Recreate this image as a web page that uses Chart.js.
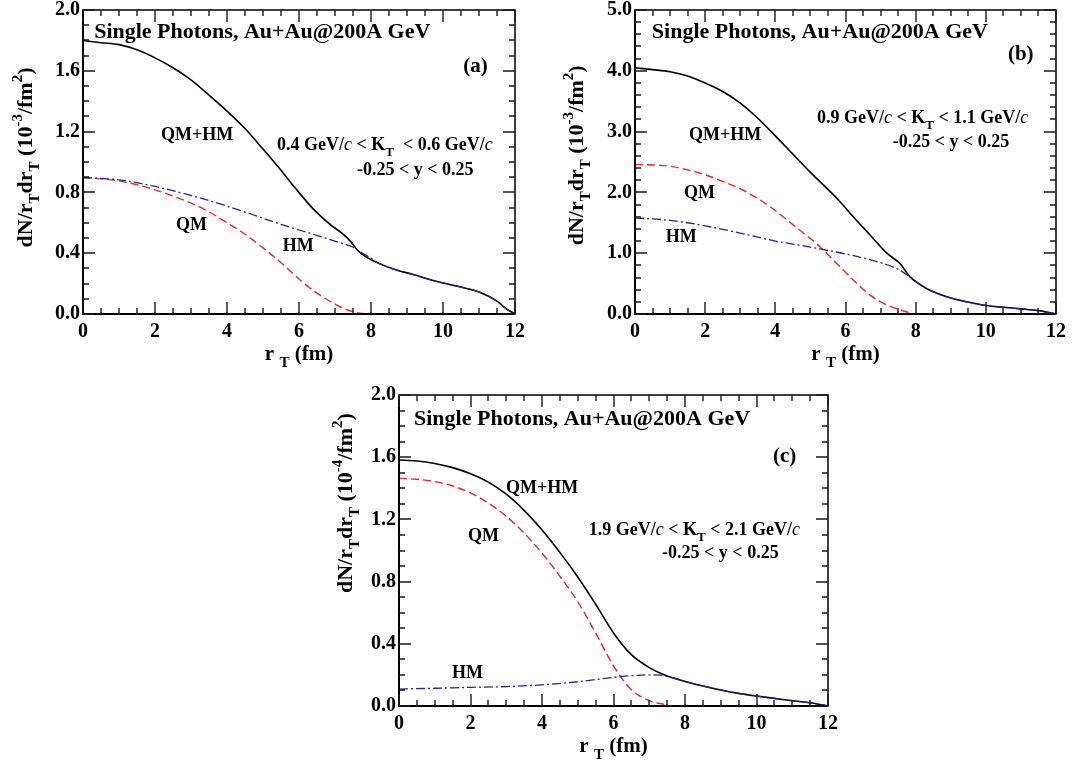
<!doctype html>
<html lang="en">
<head>
	<meta charset="utf-8">
	<title>Single Photons, Au+Au@200A GeV</title>
	<style>
		body {
			margin: 0;
			background: #fff;
		}

		.panel {
			position: absolute;
		}
	</style>
</head>

<body>
	<div class="panel" style="left:0px; top:0px"><canvas id="chartA" width="545" height="375"></canvas></div>
	<div class="panel" style="left:552px; top:0px"><canvas id="chartB" width="535" height="375"></canvas></div>
	<div class="panel" style="left:316px; top:385px"><canvas id="chartC" width="545" height="382"></canvas></div>

	<script src="https://cdn.jsdelivr.net/npm/chart.js"></script>
	<script>
		/*===== Data, panel (a): 0.4 < K_T < 0.6 GeV/c =====*/
		const rTotA = [0, 0.5, 1, 1.5, 2, 2.5, 3, 3.5, 4, 4.5, 5, 5.5, 5.89, 6.4, 6.86, 7.2, 7.44, 7.62, 7.85, 8.22, 8.71, 9.17, 9.55, 10, 10.5, 11, 11.5, 11.75, 12];
		const totA = [1.80, 1.785, 1.772, 1.738, 1.685, 1.62, 1.54, 1.44, 1.335, 1.22, 1.085, 0.945, 0.83, 0.69, 0.59, 0.53, 0.476, 0.421, 0.377, 0.333, 0.289, 0.26, 0.232, 0.204, 0.177, 0.145, 0.085, 0.035, 0];
		const rQmA = [0, 0.5, 1, 1.5, 2, 2.5, 3, 3.5, 4, 4.5, 5, 5.47, 6.03, 6.44, 7.05, 7.4, 7.69, 8];
		const qmA = [0.898, 0.889, 0.876, 0.85, 0.817, 0.776, 0.73, 0.672, 0.600, 0.525, 0.435, 0.344, 0.224, 0.147, 0.059, 0.022, 0.005, 0];
		const rHmA = [0, 1, 2, 3, 4, 5, 5.47, 6.03, 6.58, 7.14, 7.51, 7.69, 7.93, 8.22, 8.71, 9.17, 9.55, 10, 10.5, 11, 11.5, 11.75, 12];
		const hmA = [0.898, 0.883, 0.839, 0.78, 0.71, 0.63, 0.592, 0.551, 0.511, 0.469, 0.439, 0.41, 0.377, 0.333, 0.289, 0.26, 0.232, 0.204, 0.177, 0.145, 0.085, 0.035, 0];

		/*===== Data, panel (b): 0.9 < K_T < 1.1 GeV/c =====*/
		const rTotB = [0, 0.5, 1, 1.5, 2, 2.5, 3, 3.5, 4, 4.5, 5, 5.5, 5.8, 6.22, 6.7, 7.18, 7.55, 7.84, 8.31, 8.88, 9.45, 10, 10.5, 11, 11.5, 12];
		const totB = [4.05, 4.02, 3.985, 3.915, 3.80, 3.66, 3.47, 3.22, 2.93, 2.63, 2.33, 2.05, 1.875, 1.60, 1.30, 1.0, 0.83, 0.61, 0.42, 0.285, 0.20, 0.14, 0.11, 0.085, 0.055, 0];
		const rQmB = [0, 0.5, 1, 1.5, 2, 2.5, 3, 3.5, 4, 4.5, 5, 5.27, 5.75, 6.22, 6.7, 7.18, 7.51, 7.8, 8, 9, 10, 11, 12];
		const qmB = [2.46, 2.45, 2.43, 2.37, 2.29, 2.18, 2.06, 1.90, 1.70, 1.47, 1.24, 1.107, 0.83, 0.56, 0.31, 0.148, 0.077, 0.025, 0.005, 0, 0, 0, 0];
		const rHmB = [0, 1, 2, 3, 4, 5, 5.27, 6.22, 7.18, 7.55, 7.84, 8.31, 8.88, 9.45, 10, 10.5, 11, 11.5, 12];
		const hmB = [1.58, 1.54, 1.45, 1.33, 1.20, 1.10, 1.07, 0.96, 0.81, 0.72, 0.61, 0.42, 0.285, 0.20, 0.14, 0.11, 0.085, 0.055, 0];

		/*===== Data, panel (c): 1.9 < K_T < 2.1 GeV/c =====*/
		const rTotC = [0, 0.5, 1, 1.5, 2, 2.5, 3, 3.5, 4, 4.5, 5, 5.5, 6, 6.5, 7, 7.5, 8, 8.5, 9, 9.5, 10, 10.5, 11, 11.5, 12];
		const totC = [1.582, 1.576, 1.56, 1.533, 1.494, 1.44, 1.362, 1.258, 1.132, 0.988, 0.83, 0.655, 0.47, 0.33, 0.247, 0.193, 0.158, 0.129, 0.103, 0.081, 0.064, 0.049, 0.034, 0.021, 0];
		const rQmC = [0, 0.5, 1, 1.5, 2, 2.5, 3, 3.5, 4, 4.5, 5, 5.5, 6, 6.5, 7, 7.5, 7.6];
		const qmC = [1.464, 1.458, 1.443, 1.415, 1.37, 1.305, 1.22, 1.112, 0.984, 0.834, 0.671, 0.47, 0.258, 0.105, 0.034, 0.006, 0];
		const rHmC = [0, 1, 2, 3, 4, 5, 6, 6.5, 7, 7.3, 7.6, 8, 8.5, 9, 9.5, 10, 10.5, 11, 11.5, 12];
		const hmC = [0.109, 0.114, 0.12, 0.125, 0.136, 0.156, 0.184, 0.195, 0.2, 0.199, 0.186, 0.158, 0.129, 0.103, 0.081, 0.064, 0.049, 0.034, 0.021, 0];

		/*===== Axis tick steps =====*/
		const xMajor = 2, xMinor = 0.5;

		/*===== Styles =====*/
		const FONT = '"Liberation Serif", "Times New Roman", serif';
		const BLACK = '#000000';
		const RED = '#f02424';
		const BLUE = '#22229a';

		/*===== Rich text: _{sub} ^{sup} *{italic} =====*/
		function parseRich(str) {
			const parts = [];
			const re = /([_^*])\{([^}]*)\}/g;
			let last = 0, m;
			while ((m = re.exec(str)) !== null) {
				if (m.index > last) parts.push({ t: str.slice(last, m.index), k: '' });
				parts.push({ t: m[2], k: m[1] });
				last = re.lastIndex;
			}
			if (last < str.length) parts.push({ t: str.slice(last), k: '' });
			return parts;
		}

		function partFont(k, size) {
			if (k === '_' || k === '^') return 'bold ' + Math.round(size * 0.7) + 'px ' + FONT;
			if (k === '*') return 'italic ' + size + 'px ' + FONT;
			return 'bold ' + size + 'px ' + FONT;
		}

		// draws at (0,0) of the current transform, on the baseline
		function drawRich(ctx, str, size, align) {
			const parts = parseRich(str);
			let w = 0;
			parts.forEach(p => { ctx.font = partFont(p.k, size); p.w = ctx.measureText(p.t).width; w += p.w; });
			let x = align === 'center' ? -w / 2 : 0;
			ctx.textAlign = 'left';
			ctx.textBaseline = 'alphabetic';
			parts.forEach(p => {
				ctx.font = partFont(p.k, size);
				let dy = 0;
				if (p.k === '_') dy = size * 0.32;
				if (p.k === '^') dy = -size * 0.45;
				ctx.fillText(p.t, x, dy);
				x += p.w;
			});
		}

		/*===== Frame, inward ticks and texts (one plugin per panel) =====*/
		function makeFrame(spec) {
			return {
				id: 'paperFrame',
				afterDraw(chart) {
					const ctx = chart.ctx;
					const area = chart.chartArea;
					const left = Math.round(area.left), right = Math.round(area.right);
					const top = Math.round(area.top), bottom = Math.round(area.bottom);
					const sx = chart.scales.x;
					const sy = chart.scales.y;
					ctx.save();

					// frame
					ctx.setLineDash([]);
					ctx.strokeStyle = BLACK;
					ctx.lineWidth = 1.5;
					ctx.strokeRect(left, top, right - left, bottom - top);
					ctx.lineWidth = 2;
					ctx.beginPath();
					ctx.moveTo(left, top);
					ctx.lineTo(left, bottom);
					ctx.lineTo(right, bottom);
					ctx.stroke();

					// tick marks pointing into the plot
					ctx.lineWidth = 1.4;
					ctx.strokeStyle = '#1a1a1a';
					ctx.beginPath();
					const nx = Math.round(12 / xMinor);
					const kx = Math.round(xMajor / xMinor);
					for (let i = 0; i <= nx; i++) {
						const px = Math.round(sx.getPixelForValue(i * xMinor));
						const len = (i % kx === 0) ? 12 : 6;
						ctx.moveTo(px, bottom);
						ctx.lineTo(px, bottom - len);
						ctx.moveTo(px, top);
						ctx.lineTo(px, top + len);
					}
					const ny = Math.round(spec.yMax / spec.yMinor);
					const ky = Math.round(spec.yMajor / spec.yMinor);
					for (let i = 0; i <= ny; i++) {
						const py = Math.round(sy.getPixelForValue(i * spec.yMinor));
						const len = (i % ky === 0) ? 12 : 6;
						ctx.moveTo(left, py);
						ctx.lineTo(left + len, py);
						ctx.moveTo(right, py);
						ctx.lineTo(right - len, py);
					}
					ctx.stroke();

					// labels inside the plot
					ctx.fillStyle = BLACK;
					spec.labels.forEach(l => {
						ctx.save();
						ctx.translate(sx.getPixelForValue(l.x), sy.getPixelForValue(l.y));
						drawRich(ctx, l.text, l.size || 18, 'left');
						ctx.restore();
					});

					// axis titles
					ctx.save();
					ctx.translate((left + right) / 2, bottom + 46);
					drawRich(ctx, 'r _{T} (fm)', 21, 'center');
					ctx.restore();

					ctx.save();
					ctx.translate(left - spec.yTitleGap, sy.getPixelForValue(spec.yTitleAt));
					ctx.rotate(-Math.PI / 2);
					drawRich(ctx, spec.yTitle, 22, 'center');
					ctx.restore();

					ctx.restore();
				}
			};
		}

		/*===== Chart builder =====*/
		function toPoints(rs, vs) {
			return rs.map((r, i) => ({ x: r, y: vs[i] }));
		}

		function makePanel(id, p) {
			const tickFont = { family: FONT, size: 20, weight: 'bold' };
			return new Chart(document.getElementById(id), {
				type: 'line',
				data: {
					datasets: [
						{ label: 'HM', data: toPoints(p.rHm, p.hm), borderColor: BLUE, borderWidth: 1.3, borderDash: [9, 3, 2, 3], order: 0 },
						{ label: 'QM', data: toPoints(p.rQm, p.qm), borderColor: RED, borderWidth: 1.4, borderDash: [8, 4], order: 1 },
						{ label: 'QM+HM', data: toPoints(p.rTot, p.tot), borderColor: BLACK, borderWidth: 1.6, order: 2 }
					]
				},
				options: {
					responsive: false,
					animation: false,
					events: [],
					layout: { padding: { top: 10, right: p.padRight, left: 0, bottom: 0 } },
					elements: {
						point: { radius: 0 },
						line: { cubicInterpolationMode: 'monotone', fill: false }
					},
					plugins: {
						legend: { display: false },
						tooltip: { enabled: false }
					},
					scales: {
						x: {
							type: 'linear', min: 0, max: 12,
							afterFit(s) { s.height = p.xHeight; s.paddingLeft = 0; s.paddingRight = 0; },
							grid: { display: false, drawTicks: false },
							border: { display: false },
							ticks: { stepSize: xMajor, font: tickFont, color: BLACK, padding: 6, maxRotation: 0 }
						},
						y: {
							type: 'linear', min: 0, max: p.frame.yMax,
							afterFit(s) { s.width = 83; s.paddingTop = 0; s.paddingBottom = 0; },
							grid: { display: false, drawTicks: false },
							border: { display: false },
							ticks: { stepSize: p.frame.yMajor, font: tickFont, color: BLACK, padding: 3, callback: v => v.toFixed(1) }
						}
					}
				},
				plugins: [makeFrame(p.frame)]
			});
		}

		makePanel('chartA', {
			rTot: rTotA, tot: totA, rQm: rQmA, qm: qmA, rHm: rHmA, hm: hmA,
			padRight: 30, xHeight: 61,
			frame: {
				yMax: 2, yMajor: 0.4, yMinor: 0.1,
				yTitle: 'dN/r_{T}dr_{T} (10^{-3}/fm^{2})', yTitleGap: 51, yTitleAt: 1.03,
				labels: [
					{ text: 'Single Photons, Au+Au@200A GeV', x: 0.31, y: 1.816, size: 22 },
					{ text: '(a)', x: 10.56, y: 1.59, size: 21 },
					{ text: 'QM+HM', x: 2.17, y: 1.145 },
					{ text: '0.4 GeV/*{c} < K_{T}  < 0.6 GeV/*{c}', x: 5.39, y: 1.08 },
					{ text: '-0.25 < y < 0.25', x: 7.61, y: 0.914 },
					{ text: 'QM', x: 2.58, y: 0.553 },
					{ text: 'HM', x: 5.55, y: 0.414 }
				]
			}
		});

		makePanel('chartB', {
			rTot: rTotB, tot: totB, rQm: rQmB, qm: qmB, rHm: rHmB, hm: hmB,
			padRight: 31, xHeight: 61,
			frame: {
				yMax: 5, yMajor: 1, yMinor: 0.2,
				yTitle: 'dN/r_{T}dr_{T} (10^{-3}/fm^{2})', yTitleGap: 52, yTitleAt: 2.61,
				labels: [
					{ text: 'Single Photons, Au+Au@200A GeV', x: 0.48, y: 4.54, size: 22 },
					{ text: '(b)', x: 10.63, y: 4.18, size: 21 },
					{ text: 'QM+HM', x: 1.54, y: 2.86 },
					{ text: '0.9 GeV/*{c} < K_{T} < 1.1 GeV/*{c}', x: 5.19, y: 3.14 },
					{ text: '-0.25 < y < 0.25', x: 7.35, y: 2.75 },
					{ text: 'QM', x: 1.40, y: 1.91 },
					{ text: 'HM', x: 0.88, y: 1.18 }
				]
			}
		});

		makePanel('chartC', {
			rTot: rTotC, tot: totC, rQm: rQmC, qm: qmC, rHm: rHmC, hm: hmC,
			padRight: 33, xHeight: 61,
			frame: {
				yMax: 2, yMajor: 0.4, yMinor: 0.1,
				yTitle: 'dN/r_{T}dr_{T} (10^{-4}/fm^{2})', yTitleGap: 47, yTitleAt: 1.305,
				labels: [
					{ text: 'Single Photons, Au+Au@200A GeV', x: 0.42, y: 1.807, size: 22 },
					{ text: '(c)', x: 10.46, y: 1.569, size: 21 },
					{ text: 'QM+HM', x: 2.99, y: 1.37 },
					{ text: '1.9 GeV/*{c} < K_{T} < 2.1 GeV/*{c}', x: 5.31, y: 1.10 },
					{ text: '-0.25 < y < 0.25', x: 7.36, y: 0.952 },
					{ text: 'QM', x: 1.93, y: 1.061 },
					{ text: 'HM', x: 1.48, y: 0.18 }
				]
			}
		});
	</script>
</body>

</html>
